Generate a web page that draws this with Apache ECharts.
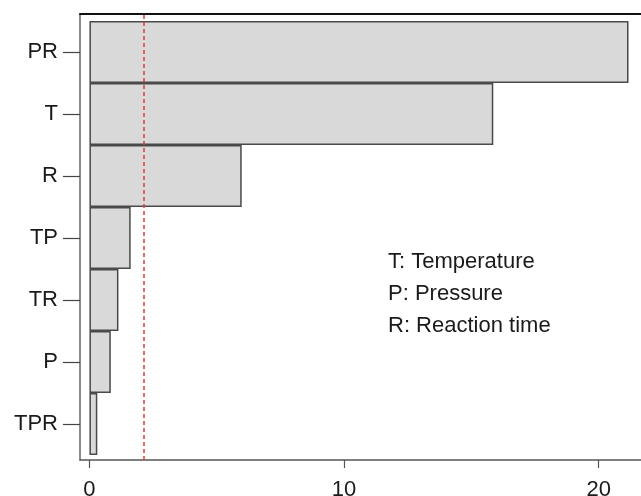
<!DOCTYPE html>
<html><head><meta charset="utf-8">
<script src="https://cdn.jsdelivr.net/npm/echarts@6/dist/echarts.min.js"></script>
<style>html,body{margin:0;padding:0;background:#fff}#c{width:641px;height:496px}</style>
</head><body><div id="c"></div>
<script>
var categories = ['PR', 'T', 'R', 'TP', 'TR', 'P', 'TPR'];
var effects = [21.17, 15.86, 5.98, 1.62, 1.14, 0.84, 0.31];
var refValue = 2.12;
var xTicks = [0, 10, 20];
var notes = ['T: Temperature', 'P: Pressure', 'R: Reaction time'];

var FONT = '"Liberation Sans", Arial, sans-serif';
var XMIN = -0.37, XMAX = 21.66;
var chart = echarts.init(document.getElementById('c'), null, {renderer: 'canvas'});
chart.setOption({
  animation: false,
  grid: [
    {left: 80, right: 0, top: 21, bottom: 41, show: false, containLabel: false, outerBoundsMode: 'none'},
    {left: 80, right: 0, top: 14, bottom: 36, show: false, containLabel: false, outerBoundsMode: 'none'}
  ],
  xAxis: [
    {gridIndex: 0, type: 'value', min: XMIN, max: XMAX, show: false},
    {gridIndex: 1, type: 'value', min: XMIN, max: XMAX, position: 'bottom',
      axisLine: {show: true, onZero: false, lineStyle: {color: '#555', width: 1.5}},
      axisTick: {show: true, length: 8, customValues: xTicks, lineStyle: {color: '#555', width: 1.2}},
      axisLabel: {show: true, customValues: xTicks, margin: 19, fontSize: 22, color: '#1a1a1a', fontFamily: FONT},
      splitLine: {show: false}},
    {gridIndex: 1, type: 'value', min: XMIN, max: XMAX, position: 'top',
      axisLine: {show: true, onZero: false, lineStyle: {color: '#111', width: 2}},
      axisTick: {show: false}, axisLabel: {show: false}, splitLine: {show: false}}
  ],
  yAxis: [
    {gridIndex: 0, type: 'category', data: categories, inverse: true,
      axisLine: {show: false, onZero: false},
      axisTick: {show: true, alignWithLabel: true, length: 17, lineStyle: {color: '#444', width: 1.2}},
      axisLabel: {margin: 22, fontSize: 22, color: '#1a1a1a', fontFamily: FONT}},
    {gridIndex: 1, type: 'value', min: 0, max: 1,
      axisLine: {show: true, onZero: false, lineStyle: {color: '#666', width: 1.5}},
      axisTick: {show: false}, axisLabel: {show: false}, splitLine: {show: false}}
  ],
  series: [
    {type: 'bar', xAxisIndex: 0, yAxisIndex: 0, data: effects, barCategoryGap: '0%',
      itemStyle: {color: '#d9d9d9', borderColor: '#4a4a4a', borderWidth: 1.5},
      silent: true},
    {type: 'scatter', xAxisIndex: 1, yAxisIndex: 1, data: [], silent: true, z: 5,
      itemStyle: {color: '#e53935'},
      markLine: {symbol: 'none', silent: true, label: {show: false},
        lineStyle: {color: '#e53935', type: [4, 3], width: 1.5, opacity: 1},
        data: [{xAxis: refValue}]}}
  ],
  graphic: notes.map(function (t, i) {
    return {type: 'text', left: 388, top: 251 + i * 32,
      style: {text: t, fill: '#1a1a1a', font: '22px ' + FONT}};
  })
});
</script></body></html>
